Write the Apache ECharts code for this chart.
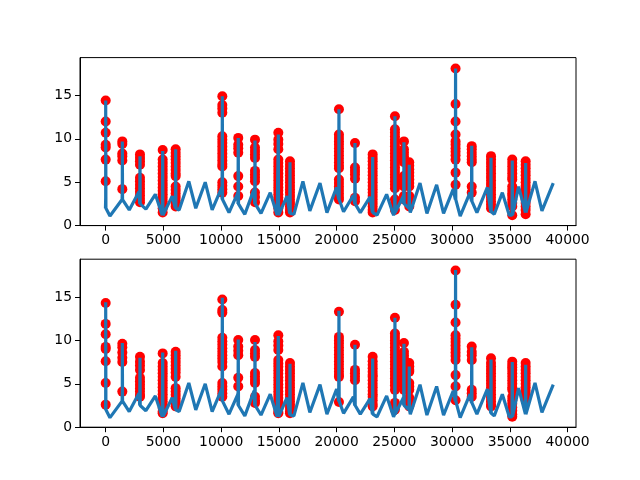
<!DOCTYPE html>
<html>
<head>
<meta charset="utf-8">
<script src="https://cdn.jsdelivr.net/npm/echarts@6/dist/echarts.min.js"></script>
<style>html,body{margin:0;padding:0;background:#fff}#c{width:640px;height:480px}</style>
</head>
<body>
<div id="c"></div>
<script>
// Baseline wave vertices (x, y)
var baseX = [0, 370, 1440, 2040, 2880, 3480, 4300, 4900, 5760, 6360, 7200, 7800, 8620, 9220, 10080, 10680, 11450, 12050, 12850, 13450, 14250, 14850, 15700, 16300, 17080, 17680, 18560, 19160, 20000, 20600, 21450, 22050, 22900, 23500, 24330, 24930, 25780, 26380, 27220, 27820, 28660, 29260, 30100, 30700, 31550, 32150, 33050, 33650, 34350, 34950, 35760, 36360, 37180, 37780, 38760];
var baseY = [3.2, 1.1, 4.4, 1.8, 3.9, 1.9, 3.6, 1.2, 3.4, 1.8, 5.1, 2.0, 5.0, 1.8, 4.5, 1.5, 3.8, 1.3, 4.2, 1.4, 3.8, 1.2, 3.4, 1.3, 5.1, 1.7, 4.9, 1.5, 4.4, 1.6, 3.5, 1.5, 3.3, 1.2, 3.6, 1.2, 3.4, 1.5, 4.9, 1.4, 4.7, 1.4, 4.2, 1.1, 3.8, 1.5, 4.4, 1.3, 3.8, 1.2, 4.5, 1.4, 5.1, 1.7, 4.9];

// Spikes of the blue line
var spikeX   = [0, 1440, 2970, 4935, 6060, 10100, 11480, 12930, 14950, 15960, 20200, 21590, 23120, 25050, 25830, 26290, 30300, 31700, 33370, 35210, 36370];
var spikeTop = [14.4, 9.7, 8.0, 8.6, 8.8, 14.9, 10.1, 9.8, 10.5, 7.3, 13.4, 9.5, 7.9, 12.6, 9.6, 7.0, 18.1, 9.2, 7.8, 7.5, 7.2];
var spikeLow = [2.0, 3.0, 2.5, 1.2, 2.0, 3.0, 2.5, 2.5, 1.2, 1.4, 3.0, 2.5, 1.5, 1.5, 2.5, 2.0, 3.0, 2.8, 1.6, 1.2, 1.5];

// Red marker columns (same x positions as spikes)
var redX = spikeX;
var redTop = [
  [14.4,12.0,10.7,9.3,9.0,7.6,5.1],
  [9.7,9.4,8.3,8.0,7.5,4.2],
  [8.2,7.8,7.4,7.0,5.5,5.1,4.7,4.3,3.9,3.5,3.1,2.7],
  [8.7,7.6,7.2,6.8,6.4,6.0,5.6,5.2,4.8,4.4,4.0,3.6,3.2,2.8,2.4,2.0,1.5],
  [8.8,8.4,8.0,7.6,7.2,6.8,6.4,6.0,5.7,4.5,4.1,3.7,3.3,2.9,2.5,2.2],
  [14.9,13.9,13.5,13.0,10.3,9.9,9.5,9.1,8.7,8.3,7.9,7.5,7.1,6.8,5.0,4.6,4.2,3.8],
  [10.1,9.3,8.9,8.4,5.7,4.5,3.4],
  [9.9,9.0,8.6,8.2,7.8,6.3,5.9,5.5,5.1,3.8,3.3,2.7],
  [10.7,9.9,9.4,8.8,7.6,7.2,6.8,6.4,6.0,5.6,5.2,4.8,4.4,4.0,3.6,3.2,2.8,2.4,2.0,1.5],
  [7.4,7.0,6.6,6.2,5.8,5.4,5.0,4.6,4.2,3.8,3.4,3.0,2.6,2.2,1.8,1.5],
  [13.4,10.5,10.1,9.7,9.3,8.9,8.5,8.1,7.7,7.3,6.9,6.6,5.3,4.9,4.5,4.1,3.7,3.3,3.0],
  [9.5,6.7,6.3,5.9,5.4,3.2,2.8],
  [8.2,7.8,7.4,7.0,6.6,6.2,5.8,5.4,5.0,4.6,4.2,3.8,3.4,3.0,2.6,2.2,1.8,1.5],
  [12.6,11.1,10.7,10.3,9.9,9.5,9.1,8.7,8.3,7.9,7.5,7.1,6.7,6.3,5.9,5.5,5.1,4.7,4.3,3.0,2.4,1.8],
  [9.7,8.8,8.4,8.0,7.6,7.3,5.7,5.3,4.9,4.5,3.4,3.0],
  [7.3,6.9,6.5,6.1,5.7,5.3,4.9,4.5,3.4,3.0,2.6,2.2],
  [18.1,14.0,12.0,10.5,9.7,9.3,8.9,8.5,8.1,7.6,6.1,4.7],
  [9.15,8.8,8.4,8.0,7.6,7.3,4.5,3.8],
  [8.0,7.6,7.2,6.8,6.4,6.0,5.6,5.2,4.8,4.4,4.0,3.6,3.2,2.8,2.4,2.0],
  [7.6,7.2,6.8,6.4,6.0,5.6,5.3,4.5,4.1,3.7,3.4,3.0,2.6,2.2,1.2],
  [7.4,7.0,6.6,6.2,5.8,5.4,5.0,4.6,4.2,3.8,3.4,3.0,2.6,2.2,1.8,1.3]
];
var redBottom = [
  [14.3,11.9,10.7,9.25,9.0,7.6,5.1,2.6],
  [9.6,9.2,8.6,8.0,7.5,4.1],
  [8.1,7.55,7.1,6.6,5.7,5.3,4.9,4.5,4.1,3.7,3.5],
  [8.5,7.4,7.0,6.6,6.2,5.8,5.4,5.0,4.6,4.2,3.8,3.4,3.0,2.6,2.2,1.8,1.6],
  [8.7,8.3,7.9,7.5,7.1,6.7,6.3,5.8,4.5,4.1,3.7,3.3,2.9,2.4],
  [14.7,13.5,13.2,10.3,9.9,9.5,9.1,8.7,8.3,7.9,7.5,7.0,5.1,4.7,4.3,3.9,3.5],
  [10.05,9.3,8.8,8.3,5.7,4.7],
  [10.05,8.9,8.5,8.1,6.25,5.85,5.45,5.1,3.5,3.1,2.8],
  [10.6,9.9,9.4,8.9,7.75,7.35,6.95,6.55,6.15,5.75,5.35,4.95,4.55,4.15,3.75,3.35,2.95,2.55,2.15,1.75,1.6],
  [7.4,7.0,6.6,6.2,5.8,5.4,5.0,4.6,4.2,3.8,3.4,3.0,2.6,2.2,1.8,1.6],
  [13.3,10.4,10.0,9.6,9.2,8.8,8.4,8.0,7.6,7.2,6.8,6.4,6.0,5.8,2.9],
  [9.5,6.6,6.2,5.8,5.4],
  [8.1,7.6,7.2,6.8,6.4,6.0,5.8,5.4,5.0,4.6,4.2,3.8,3.5,3.1,2.7,2.4],
  [12.6,10.8,10.4,10.0,9.6,9.2,8.8,8.4,8.0,7.6,7.2,6.8,6.4,6.0,5.6,5.2,4.8,4.3,2.8,2.4,2.0],
  [9.7,8.7,8.3,7.9,7.5,7.1,6.7,6.3,5.9,5.5,5.1,4.7,4.3],
  [7.4,7.0,6.6,6.4,5.1,4.7,4.3,3.4,3.0,2.6,2.4],
  [18.05,14.1,12.05,10.6,10.2,9.8,9.4,9.0,8.6,8.2,7.75,6.0,4.7,3.1],
  [9.3,8.7,8.3,7.75,4.3,3.9,3.5],
  [7.95,7.4,7.0,6.6,6.2,5.8,5.4,5.0,4.6,4.2,3.8,3.4,3.0,2.6,2.4],
  [7.55,7.2,6.9,6.6,6.2,5.8,5.4,5.0,4.6,4.3,3.5,3.1,2.7,2.3,1.9,1.5,1.2],
  [7.4,7.0,6.6,6.2,5.8,5.4,5.0,4.6,4.2,3.8,3.4,3.1]
];

var xTicks = [0, 5000, 10000, 15000, 20000, 25000, 30000, 35000, 40000];
var yTicks = [0, 5, 10, 15];

// build line data (merge baseline and spike vertices, sorted by x)
var lineData = [];
baseX.forEach(function (x, i) { lineData.push([x, baseY[i], 0]); });
spikeX.forEach(function (x, i) {
  lineData.push([x - 20, spikeLow[i], 1]);
  lineData.push([x, spikeTop[i], 2]);
  lineData.push([x + 20, spikeLow[i], 3]);
});
lineData.sort(function (a, b) { return a[0] - b[0] || a[2] - b[2]; });
lineData = lineData.map(function (d) { return [d[0], d[1]]; });

function redData(cols) {
  var out = [];
  redX.forEach(function (x, i) { cols[i].forEach(function (v) { out.push([x, v]); }); });
  return out;
}

var font = { fontFamily: 'DejaVu Sans', fontSize: 13.9, color: '#000' };
function xAxis(gi) {
  return {
    type: 'value', gridIndex: gi, min: -2225, max: 40730,
    axisLine: { show: true, onZero: false, lineStyle: { color: '#000', width: 1 } },
    axisTick: { show: true, length: 5, lineStyle: { color: '#000', width: 1 }, customValues: xTicks },
    axisLabel: Object.assign({ margin: 8, customValues: xTicks,
      formatter: function (v) { return v % 5000 === 0 ? String(v) : ''; } }, font),
    splitLine: { show: false }
  };
}
function yAxis(gi) {
  return {
    type: 'value', gridIndex: gi, min: 0, max: 19.35,
    axisLine: { show: true, onZero: false, lineStyle: { color: '#000', width: 1 } },
    axisTick: { show: true, length: 5, lineStyle: { color: '#000', width: 1 }, customValues: yTicks },
    axisLabel: Object.assign({ margin: 8, customValues: yTicks,
      formatter: function (v) { return v % 5 === 0 ? String(v) : ''; } }, font),
    splitLine: { show: false }
  };
}

var chart = echarts.init(document.getElementById('c'), null, { renderer: 'canvas' });
chart.setOption({
  animation: false,
  backgroundColor: '#fff',
  grid: [
    { left: 80, top: 57.6, width: 496, height: 168, show: true, borderColor: '#000', borderWidth: 1, backgroundColor: 'transparent' },
    { left: 80, top: 259.2, width: 496, height: 168, show: true, borderColor: '#000', borderWidth: 1, backgroundColor: 'transparent' }
  ],
  xAxis: [xAxis(0), xAxis(1)],
  yAxis: [yAxis(0), yAxis(1)],
  series: [
    { type: 'scatter', xAxisIndex: 0, yAxisIndex: 0, data: redData(redTop), symbolSize: 10, itemStyle: { color: '#ff0000', opacity: 1 }, z: 2 },
    { type: 'line', xAxisIndex: 0, yAxisIndex: 0, data: lineData, showSymbol: false, lineStyle: { color: '#1f77b4', width: 3.2 }, z: 3 },
    { type: 'scatter', xAxisIndex: 1, yAxisIndex: 1, data: redData(redBottom), symbolSize: 10, itemStyle: { color: '#ff0000', opacity: 1 }, z: 2 },
    { type: 'line', xAxisIndex: 1, yAxisIndex: 1, data: lineData, showSymbol: false, lineStyle: { color: '#1f77b4', width: 3.2 }, z: 3 }
  ]
});
</script>
</body>
</html>
